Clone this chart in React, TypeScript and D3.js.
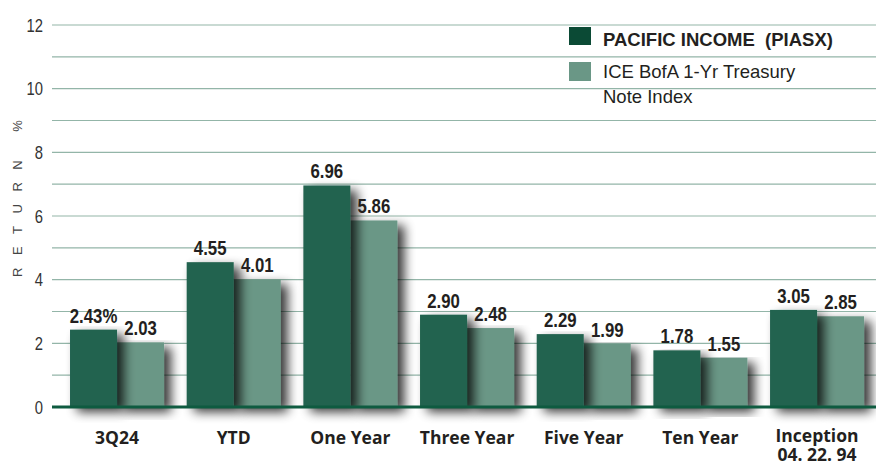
import React from "react";
import * as d3 from "d3";

const categories = ["3Q24", "YTD", "One Year", "Three Year", "Five Year", "Ten Year", "Inception\n04. 22. 94"];
const fundReturns = [2.43, 4.55, 6.96, 2.9, 2.29, 1.78, 3.05];
const indexReturns = [2.03, 4.01, 5.86, 2.48, 1.99, 1.55, 2.85];
const seriesKeys = ["fund", "index"];
const legendLabels = [["PACIFIC INCOME  (PIASX)"], ["ICE BofA 1-Yr Treasury", "Note Index"]];
const yTickValues = [0, 2, 4, 6, 8, 10, 12];
const gridValues = d3.range(0, 13, 1);

const W = 876;
const H = 467;
const FUND_COLOR = "#236350";
const INDEX_COLOR = "#6a9786";
const LEGEND_FUND = "#0b4a35";
const GRID = "#93b5a8";
const ZERO = "#0e5b40";
const TEXT = "#231f20";
const SANS = "'Liberation Sans', Arial, sans-serif";
const LABEL_FONT = "'Open Sans', 'Liberation Sans', sans-serif";

export default function App() {
  const x = d3
    .scaleBand<string>()
    .domain(categories)
    .range([58.7, 875.4])
    .paddingInner(0.194)
    .paddingOuter(0.097);
  const xs = d3.scaleBand<string>().domain(seriesKeys).range([0, x.bandwidth()]);
  const y = d3.scaleLinear().domain([0, 12]).range([407, 25]);
  const gridX0 = 52;
  const gridX1 = W;

  const series = [
    { key: "index", values: indexReturns, color: INDEX_COLOR },
    { key: "fund", values: fundReturns, color: FUND_COLOR },
  ];

  return (
    <svg
      width={W}
      height={H}
      viewBox={`0 0 ${W} ${H}`}
      style={{ position: "absolute", left: 0, top: 0, background: "#fff" }}
    >
      <defs>
        <filter id="barShadow" x="-40%" y="-10%" width="190%" height="130%">
          <feGaussianBlur in="SourceAlpha" stdDeviation="5.5" />
          <feOffset dx="7" dy="5" result="off" />
          <feComponentTransfer>
            <feFuncA type="linear" slope="0.78" />
          </feComponentTransfer>
          <feMerge>
            <feMergeNode />
            <feMergeNode in="SourceGraphic" />
          </feMerge>
        </filter>
      </defs>
      <rect x={0} y={0} width={W} height={H} fill="#fff" />

      {/* gridlines */}
      {gridValues.map((v) => (
        <line key={v} x1={gridX0} x2={gridX1} y1={y(v)} y2={y(v)} stroke={GRID} strokeWidth={1.2} />
      ))}

      {/* y tick labels */}
      {yTickValues.map((v) => (
        <text
          key={v}
          transform={`translate(43,${y(v) + 6.5}) scale(0.8,1)`}
          textAnchor="end"
          fontFamily={SANS}
          fontSize={18.5}
          fill="#333"
        >
          {v}
        </text>
      ))}

      {/* axis title */}
      <text
        transform="translate(22,277) rotate(-90)"
        fontFamily={SANS}
        fontSize={13}
        letterSpacing={12.5}
        fill="#444"
      >
        RETURN %
      </text>

      {/* legend */}
      <g>
        <rect x={569} y={27} width={22} height={18} fill={LEGEND_FUND} />
        <text
          x={603}
          y={46}
          fontFamily={SANS}
          fontWeight="bold"
          fontSize={18.5}
          fill={TEXT}
          style={{ whiteSpace: "pre" }}
        >
          {legendLabels[0][0]}
        </text>
        <rect x={569} y={62} width={22} height={19} fill={INDEX_COLOR} />
        {legendLabels[1].map((t, i) => (
          <text key={t} x={603} y={78 + i * 24.5} fontFamily={SANS} fontSize={18.5} fill={TEXT}>
            {t}
          </text>
        ))}
      </g>

      {/* bars */}
      {categories.map((c, i) => (
        <g key={c} transform={`translate(${x(c)},0)`}>
          {series.map((s) => (
            <rect
              key={s.key}
              x={xs(s.key)}
              y={y(s.values[i])}
              width={xs.bandwidth()}
              height={y(0) - y(s.values[i])}
              fill={s.color}
              filter="url(#barShadow)"
            />
          ))}
        </g>
      ))}

      {/* zero line */}
      <line x1={gridX0} x2={gridX1} y1={y(0)} y2={y(0)} stroke={ZERO} strokeWidth={3} />

      {/* value labels */}
      {categories.map((c, i) => (
        <g key={c + "-lab"} transform={`translate(${x(c)},0)`}>
          {series.map((s) => (
            <text
              key={s.key}
              transform={`translate(${(xs(s.key) as number) + xs.bandwidth() / 2},${
                y(s.values[i]) - 7
              }) scale(0.84,1)`}
              textAnchor="middle"
              fontFamily={SANS}
              fontWeight="bold"
              fontSize={20}
              fill={TEXT}
            >
              {s.values[i].toFixed(2) + (s.key === "fund" && i === 0 ? "%" : "")}
            </text>
          ))}
        </g>
      ))}

      {/* x labels */}
      {categories.map((c) => {
        const lines = c.split("\n");
        const cx = (x(c) as number) + x.bandwidth() / 2;
        return lines.map((l, j) => (
          <text
            key={c + "-x" + j}
            x={cx}
            y={(lines.length > 1 ? 442 : 444) + j * 19}
            textAnchor="middle"
            fontFamily={LABEL_FONT}
            fontWeight="bold"
            fontSize={17.5}
            fill={TEXT}
          >
            {l}
          </text>
        ));
      })}
    </svg>
  );
}
